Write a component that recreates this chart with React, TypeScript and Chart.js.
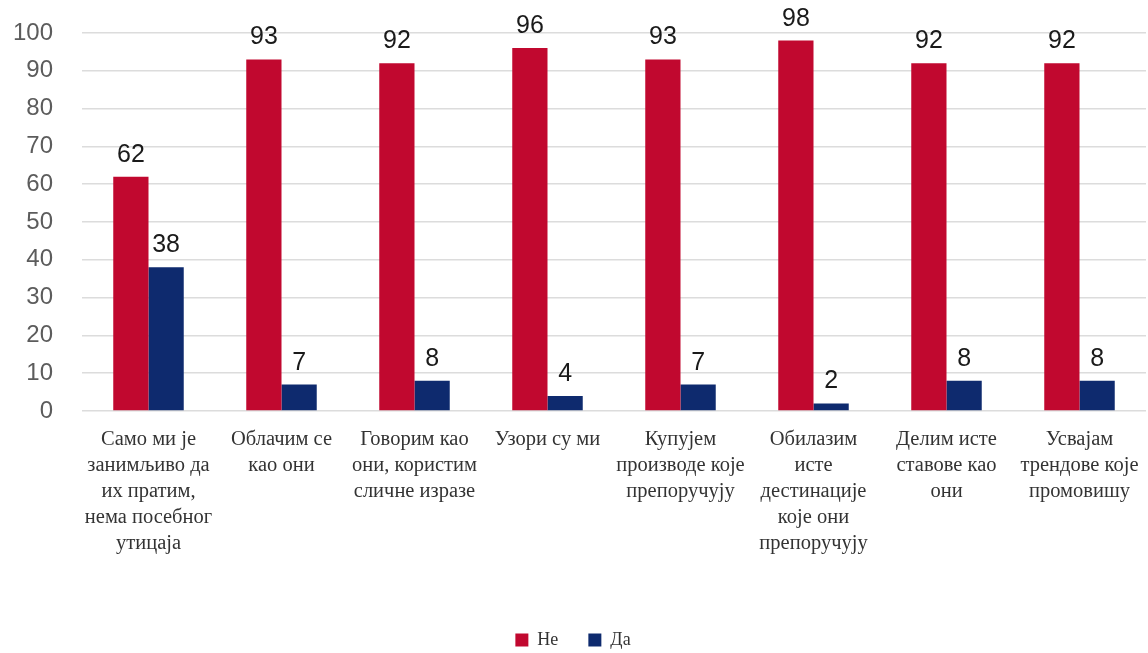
import React, { useEffect, useRef } from "react";
import { Chart, registerables } from "chart.js";

Chart.register(...registerables);

const categories: string[][] = [
  ["Само ми је", "занимљиво да", "их пратим,", "нема посебног", "утицаја"],
  ["Облачим се", "као они"],
  ["Говорим као", "они, користим", "сличне изразе"],
  ["Узори су ми"],
  ["Купујем", "производе које", "препоручују"],
  ["Обилазим", "исте", "дестинације", "које они", "препоручују"],
  ["Делим исте", "ставове као", "они"],
  ["Усвајам", "трендове које", "промовишу"],
];
const neValues = [62, 93, 92, 96, 93, 98, 92, 92];
const daValues = [38, 7, 8, 4, 7, 2, 8, 8];
const seriesNames = ["Не", "Да"];
const RED = "#C1082F";
const BLUE = "#0E2A6E";

const valueLabels = {
  id: "valueLabels",
  afterDatasetsDraw(chart: any) {
    const ctx = chart.ctx;
    ctx.save();
    ctx.font = "25px 'Liberation Sans', Arial, sans-serif";
    ctx.fillStyle = "#1a1a1a";
    ctx.textAlign = "center";
    ctx.textBaseline = "alphabetic";
    chart.data.datasets.forEach((ds: any, i: number) => {
      const meta = chart.getDatasetMeta(i);
      meta.data.forEach((bar: any, j: number) => {
        ctx.fillText(String(ds.data[j]), bar.x, bar.y - 15);
      });
    });
    ctx.restore();
  },
};

export default function App() {
  const ref = useRef<HTMLCanvasElement>(null);
  useEffect(() => {
    document.body.style.margin = "0";
    const chart = new Chart(ref.current!, {
      type: "bar",
      data: {
        labels: categories,
        datasets: [
          { label: seriesNames[0], data: neValues, backgroundColor: RED, barPercentage: 1, categoryPercentage: 0.53 },
          { label: seriesNames[1], data: daValues, backgroundColor: BLUE, barPercentage: 1, categoryPercentage: 0.53 },
        ],
      },
      options: {
        animation: false,
        responsive: false,
        layout: { padding: { top: 33, right: 2, left: 0, bottom: -6 } },
        plugins: {
          tooltip: { enabled: false },
          legend: {
            position: "bottom",
            labels: {
              boxWidth: 13,
              boxHeight: 13,
              padding: 30,
              color: "#333",
              font: { family: "'Liberation Serif', 'Times New Roman', serif", size: 18 },
            },
          },
        },
        scales: {
          x: {
            grid: { display: false },
            border: { display: false },
            ticks: {
              color: "#333",
              padding: 8,
              maxRotation: 0,
              autoSkip: false,
              font: { family: "'Liberation Serif', 'Times New Roman', serif", size: 20.5, lineHeight: 1.26 },
            },
            afterFit: (s: any) => { s.height = 190; },
          },
          y: {
            min: 0,
            max: 100,
            ticks: {
              stepSize: 10,
              color: "#5c5c5c",
              padding: 29,
              font: { family: "'Liberation Sans', Arial, sans-serif", size: 24 },
            },
            grid: { color: "#dcdcdc", drawTicks: false, lineWidth: 1.5 },
            border: { display: false },
            afterFit: (s: any) => { s.width = 82; s.paddingTop = 0; s.paddingBottom = 0; },
          },
        },
      },
      plugins: [valueLabels],
    });
    return () => chart.destroy();
  }, []);
  return (
    <div style={{ position: "absolute", left: 0, top: 0, width: 1148, height: 653 }}>
      <canvas ref={ref} width={1148} height={653} />
    </div>
  );
}
